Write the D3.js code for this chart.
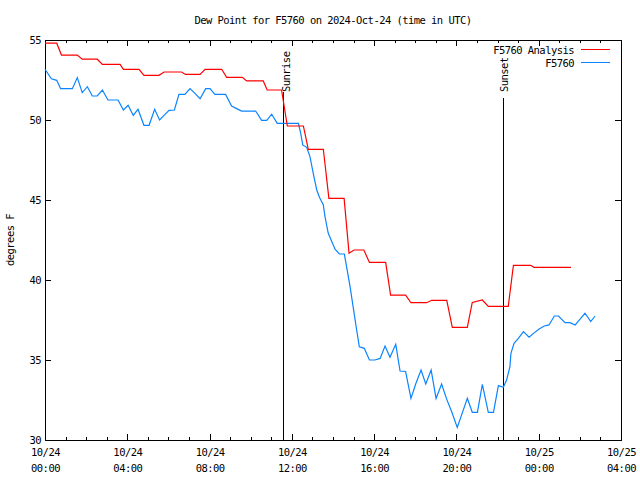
<!DOCTYPE html>
<html>
<head>
<meta charset="utf-8">
<script src="https://cdn.jsdelivr.net/npm/d3@7"></script>
<style>
  body { margin: 0; background: #fff; }
  svg { display: block; }
  text { font-family: "DejaVu Sans Mono", "Liberation Mono", monospace; font-size: 10.5px; letter-spacing: -0.55px; fill: #000; }
</style>
</head>
<body>
<svg id="chart" width="640" height="480"></svg>
<script>
// ---------------- data ----------------
const titleText = "Dew Point for F5760 on 2024-Oct-24 (time in UTC)";
const yLabelText = "degrees F";
const seriesNames = ["F5760 Analysis", "F5760"];
const seriesColors = ["#ff0000", "#0a84ff"];

// x tick labels (hours since 2024-10-24 00:00 UTC)
const xTickHours = [0, 4, 8, 12, 16, 20, 24, 28];
const xTickDates = ["10/24", "10/24", "10/24", "10/24", "10/24", "10/24", "10/25", "10/25"];
const xTickTimes = ["00:00", "04:00", "08:00", "12:00", "16:00", "20:00", "00:00", "04:00"];
const yTicks = [30, 35, 40, 45, 50, 55];

// sun events (hours UTC)
const sunNames = ["Sunrise", "Sunset"];
const sunHours = [11.57, 22.27];

// F5760 Analysis (red) : time in hours, dew point in F
const analysisHours = [0, 0.57, 0.8, 1.57, 1.81, 2.54, 2.79, 3.65, 3.81, 4.57, 4.81, 5.54, 5.79, 6.64, 6.83, 7.54, 7.78, 8.59, 8.83, 9.59, 9.8, 10.61, 10.8, 11.5, 11.78, 12.56, 12.8, 13.53, 13.8, 14.54, 14.78, 15.02, 15.5, 15.77, 16.56, 16.8, 17.53, 17.79, 18.55, 18.8, 19.53, 19.8, 20.53, 20.77, 21.26, 21.55, 22.52, 22.77, 23.61, 23.77, 25.57];
const analysisValues = [54.8, 54.8, 54.06, 54.06, 53.8, 53.8, 53.48, 53.48, 53.17, 53.17, 52.79, 52.79, 53.0, 53.0, 52.85, 52.85, 53.17, 53.17, 52.67, 52.67, 52.44, 52.44, 51.875, 51.875, 49.625, 49.625, 48.17, 48.17, 45.1, 45.1, 41.67, 41.875, 41.875, 41.1, 41.1, 39.06, 39.06, 38.58, 38.58, 38.73, 38.73, 37.04, 37.04, 38.6, 38.75, 38.35, 38.35, 40.92, 40.92, 40.79, 40.79];

// F5760 observations (blue)
const obsHours = [0, 0.31, 0.57, 0.76, 1.33, 1.57, 1.81, 2.06, 2.3, 2.54, 2.79, 3.06, 3.55, 3.81, 4.04, 4.29, 4.52, 4.81, 5.06, 5.33, 5.57, 5.8, 6.03, 6.29, 6.51, 6.8, 7.05, 7.3, 7.54, 7.81, 8.02, 8.26, 8.78, 9.07, 9.32, 9.56, 10.24, 10.53, 10.78, 11.02, 11.29, 12.32, 12.43, 12.53, 12.72, 12.88, 13.04, 13.21, 13.34, 13.53, 13.61, 13.77, 13.94, 14.1, 14.31, 14.55, 14.66, 14.83, 14.99, 15.15, 15.28, 15.52, 15.77, 16.04, 16.29, 16.53, 16.77, 17.05, 17.26, 17.53, 17.79, 18.02, 18.28, 18.51, 18.77, 19.01, 19.28, 19.53, 19.77, 20.04, 20.29, 20.53, 20.77, 21.02, 21.26, 21.55, 21.8, 22.04, 22.28, 22.44, 22.6, 22.65, 22.8, 23.01, 23.26, 23.53, 23.79, 24.02, 24.27, 24.5, 24.76, 24.96, 25.28, 25.52, 25.77, 26.0, 26.25, 26.53, 26.74];
const obsValues = [53.17, 52.58, 52.48, 51.96, 51.96, 52.65, 51.71, 52.08, 51.5, 51.5, 51.875, 51.25, 51.25, 50.625, 50.92, 50.29, 50.67, 49.67, 49.67, 50.67, 50.0, 50.3, 50.6, 50.625, 51.6, 51.6, 51.96, 51.65, 51.33, 51.96, 51.96, 51.6, 51.6, 50.875, 50.71, 50.56, 50.56, 49.98, 49.98, 50.36, 49.79, 49.79, 49.17, 48.44, 48.29, 47.71, 46.67, 45.625, 45.17, 44.69, 43.96, 42.92, 42.4, 41.92, 41.625, 41.625, 40.83, 39.58, 38.23, 36.875, 35.83, 35.73, 35.0, 35.0, 35.1, 35.875, 35.17, 35.98, 34.31, 34.28, 32.6, 33.5, 34.375, 33.5, 34.375, 32.6, 33.5, 32.54, 31.77, 30.79, 31.71, 32.6, 31.73, 31.73, 33.48, 31.73, 31.73, 33.4, 33.29, 33.75, 34.58, 35.42, 36.04, 36.35, 36.77, 36.42, 36.71, 36.94, 37.125, 37.19, 37.75, 37.75, 37.33, 37.33, 37.19, 37.54, 37.92, 37.4, 37.75];

// ---------------- layout ----------------
const svg = d3.select("#chart");
const L = 45, R = 621, T = 40, B = 440;
const x = d3.scaleLinear().domain([0, 28]).range([L, R]);
const y = d3.scaleLinear().domain([30, 55]).range([B, T]);

// title
svg.append("text").attr("x", 333).attr("y", 24).attr("text-anchor", "middle").text(titleText);
// y label
svg.append("text").attr("transform", "translate(14,240) rotate(-90)").attr("text-anchor", "middle").text(yLabelText);

function styleAxis(g) {
  g.select(".domain").remove();
  g.selectAll("line").attr("stroke", "#000").attr("shape-rendering", "crispEdges");
}

// x axes (bottom + top), ticks inward
svg.append("g").attr("transform", `translate(0,${B})`)
  .call(d3.axisBottom(x).tickValues(d3.range(0, 29)).tickSize(-3).tickFormat("")).call(styleAxis);
svg.append("g").attr("transform", `translate(0,${T})`)
  .call(d3.axisTop(x).tickValues(d3.range(0, 29)).tickSize(-3).tickFormat("")).call(styleAxis);
svg.append("g").attr("transform", `translate(0,${T})`)
  .call(d3.axisTop(x).tickValues(xTickHours).tickSize(-6).tickFormat("")).call(styleAxis);
const xb = svg.append("g").attr("transform", `translate(0,${B})`)
  .call(d3.axisBottom(x).tickValues(xTickHours).tickSize(-6).tickFormat("")).call(styleAxis);
xb.selectAll(".tick text").remove();
xb.selectAll(".tick").each(function(d, i) {
  const t = d3.select(this).append("text").attr("text-anchor", "middle").attr("fill", "#000");
  t.append("tspan").attr("x", 0).attr("y", 16).text(xTickDates[i]);
  t.append("tspan").attr("x", 0).attr("y", 32).text(xTickTimes[i]);
});
xb.attr("font-family", null).attr("font-size", null);

// y axes (left + right)
const yl = svg.append("g").attr("transform", `translate(${L},0)`)
  .call(d3.axisLeft(y).tickValues(yTicks).tickSize(-6).tickPadding(4).tickFormat(d3.format("d"))).call(styleAxis);
yl.attr("font-family", null).attr("font-size", null);
yl.selectAll(".tick text").attr("x", -4).attr("dy", "0.35em");
svg.append("g").attr("transform", `translate(${R},0)`)
  .call(d3.axisRight(y).tickValues(yTicks).tickSize(-6).tickFormat("")).call(styleAxis);

// frame
svg.append("rect").attr("x", L).attr("y", T).attr("width", R - L).attr("height", B - T)
  .attr("fill", "none").attr("stroke", "#000").attr("shape-rendering", "crispEdges");

// sun lines
const sunTop = [92, 98];
const sunLabelBottom = [92, 92];
const sunLabelDx = [6, 4];
sunHours.forEach((h, i) => {
  const sx = Math.round(x(h)) + 0.5;
  svg.append("line").attr("x1", sx).attr("x2", sx).attr("y1", sunTop[i]).attr("y2", B)
    .attr("stroke", "#000").attr("stroke-width", 1);
  svg.append("text").attr("transform", `translate(${sx + sunLabelDx[i]},${sunLabelBottom[i]}) rotate(-90)`)
    .attr("text-anchor", "start").text(sunNames[i]);
});

// series
const line = d3.line().x(d => x(d[0])).y(d => y(d[1]));
const analysis = analysisHours.map((h, i) => [h, analysisValues[i]]);
const obs = obsHours.map((h, i) => [h, obsValues[i]]);
svg.append("path").datum(obs).attr("d", line).attr("fill", "none")
  .attr("stroke", seriesColors[1]).attr("stroke-width", 1.2);
svg.append("path").datum(analysis).attr("d", line).attr("fill", "none")
  .attr("stroke", seriesColors[0]).attr("stroke-width", 1.2);

// legend
seriesNames.forEach((n, i) => {
  const ly = 49.5 + i * 13;
  svg.append("text").attr("x", 574).attr("y", ly + 4).attr("text-anchor", "end").text(n);
  svg.append("line").attr("x1", 581).attr("x2", 610).attr("y1", ly).attr("y2", ly)
    .attr("stroke", seriesColors[i]).attr("stroke-width", 1);
});
</script>
</body>
</html>
